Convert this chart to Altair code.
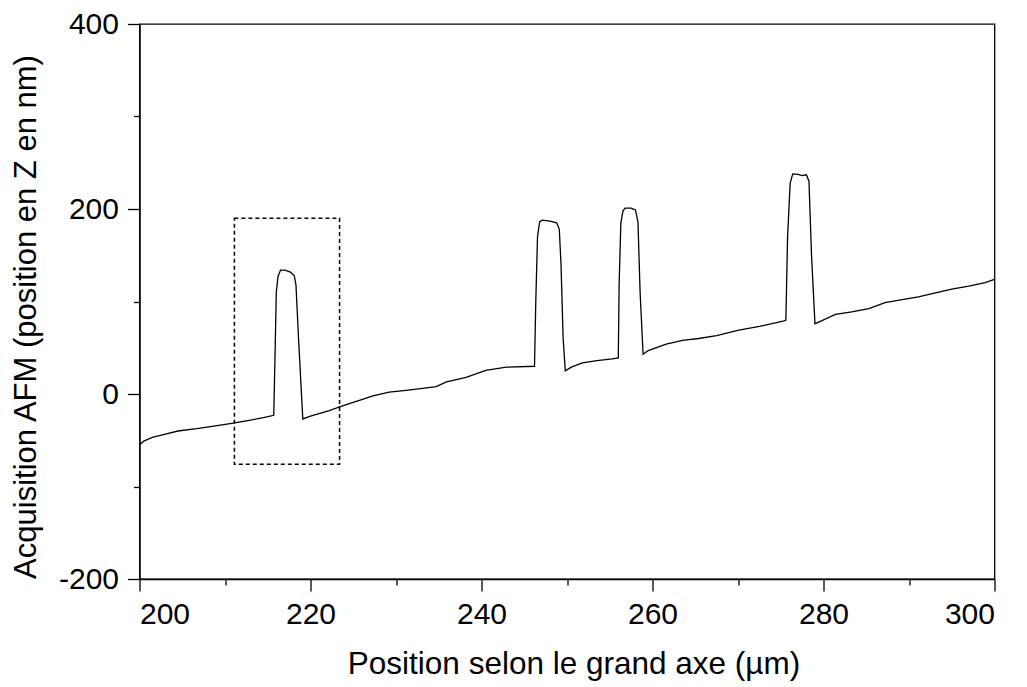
import altair as alt
import pandas as pd

# AFM profile
pos_um = [200.0, 200.5, 201.5, 202.8, 204.5, 206.7, 208.5, 210.6, 212.5, 214.5, 215.7,
          215.85, 216.0, 216.2, 216.5, 217.0, 217.6, 218.1, 218.3, 218.6, 219.1,
          220.0, 222.2, 223.4, 225.0, 227.3, 229.2, 231.2, 233.1, 234.7, 235.9, 238.2,
          240.5, 242.9, 246.2,
          246.35, 246.55, 246.8, 247.1, 248.0, 248.8, 249.1, 249.3, 249.55, 249.8,
          250.5, 251.8, 253.5, 255.3, 256.0,
          256.1, 256.3, 256.55, 256.8, 257.5, 258.0, 258.3, 258.55, 258.9,
          259.5, 261.6, 263.5, 265.4, 267.5, 270.1, 272.5, 275.4,
          275.6, 275.8, 276.1, 276.4, 277.0, 277.5, 278.0, 278.3, 278.6, 279.0,
          279.5, 281.4, 283.3, 285.3, 287.2, 289.2, 291.1, 293.1, 295.0, 297.0, 298.9, 300.0]
height_nm = [-55, -51, -47, -44, -40, -37.5, -35, -32, -29, -25.6, -23,
             40, 110, 127, 134, 134, 132, 128, 118, 60, -27,
             -24, -18, -14, -9, -2, 2, 4, 6, 8, 13, 18,
             25.6, 29, 30,
             100, 170, 186, 188, 187, 185, 178, 140, 60, 25,
             29, 33.6, 36, 38, 39,
             120, 185, 198, 201, 201, 199, 186, 110, 43,
             47, 54, 58, 60, 63, 69, 73, 79,
             80, 170, 228, 238, 237.5, 236, 237, 230, 150, 76,
             78, 86, 88.7, 92.4, 98.9, 102, 105, 109.3, 113.3, 116.6, 120.5, 123.8]

# dashed selection box
box_x = [211.1]
box_x2 = [223.4]
box_y = [-76]
box_y2 = [190]

x_major = [200, 220, 240, 260, 280, 300]
x_minor = [210, 230, 250, 270, 290]
y_major = [-200, 0, 200, 400]
y_minor = [-100, 100, 300]

df = pd.DataFrame({"x": pos_um, "y": height_nm})
box_df = pd.DataFrame({"x": box_x, "x2": box_x2, "y": box_y, "y2": box_y2})

FONT = "Liberation Sans"
xs = alt.Scale(domain=[200, 300], nice=False, zero=False)
ys = alt.Scale(domain=[-200, 400], nice=False, zero=False)

common = dict(labelFont=FONT, titleFont=FONT, labelColor="black", titleColor="black",
              tickColor="black", domainColor="black", grid=False,
              tickWidth=1.3, domainWidth=1.3)

x_axis_major = alt.Axis(values=x_major, orient="bottom", tickSize=12, labelPadding=8,
                        labelFontSize=30, title="Position selon le grand axe (µm)",
                        titleFontSize=31.5, titleFontWeight="normal",
                        titleX=434, titleY=94.5, titleBaseline="alphabetic",
                        titleAnchor="middle", **common)
y_axis_major = alt.Axis(values=y_major, orient="left", tickSize=12, labelPadding=9,
                        labelFontSize=30, title="Acquisition AFM (position en Z en nm)",
                        labelExpr="datum.value < 0 ? '-' + abs(datum.value) : datum.label",
                        titleFontSize=31, titleFontWeight="normal",
                        titleX=-104.5, titleY=292.5, titleBaseline="alphabetic",
                        titleAngle=270, titleAnchor="middle", **common)
x_axis_minor = alt.Axis(values=x_minor, orient="bottom", tickSize=6, labels=False,
                        domain=False, title=None, grid=False, tickColor="black", tickWidth=1.3)
y_axis_minor = alt.Axis(values=y_minor, orient="left", tickSize=6, labels=False,
                        domain=False, title=None, grid=False, tickColor="black", tickWidth=1.3)

line = alt.Chart(df).mark_line(color="black", strokeWidth=1.3).encode(
    x=alt.X("x:Q", scale=xs, axis=x_axis_major),
    y=alt.Y("y:Q", scale=ys, axis=y_axis_major),
)
minor = alt.Chart(df).mark_line(opacity=0).encode(
    x=alt.X("x:Q", scale=xs, axis=x_axis_minor),
    y=alt.Y("y:Q", scale=ys, axis=y_axis_minor),
)
box = alt.Chart(box_df).mark_rect(fillOpacity=0, stroke="black", strokeWidth=1.5,
                                  strokeDash=[4, 3]).encode(
    x=alt.X("x:Q", scale=xs, axis=None),
    x2="x2:Q",
    y=alt.Y("y:Q", scale=ys, axis=None),
    y2="y2:Q",
)

chart = alt.layer(line, minor, box).resolve_axis(x="independent", y="independent").properties(
    width=855, height=555,
    autosize=alt.AutoSizeParams(type="none"),
    padding={"left": 131.5, "top": 16, "right": 24.5, "bottom": 106},
    background="white",
).configure_view(stroke="black", strokeWidth=1.3)

chart.save("out.html", embed_options={"renderer": "svg", "actions": False})
